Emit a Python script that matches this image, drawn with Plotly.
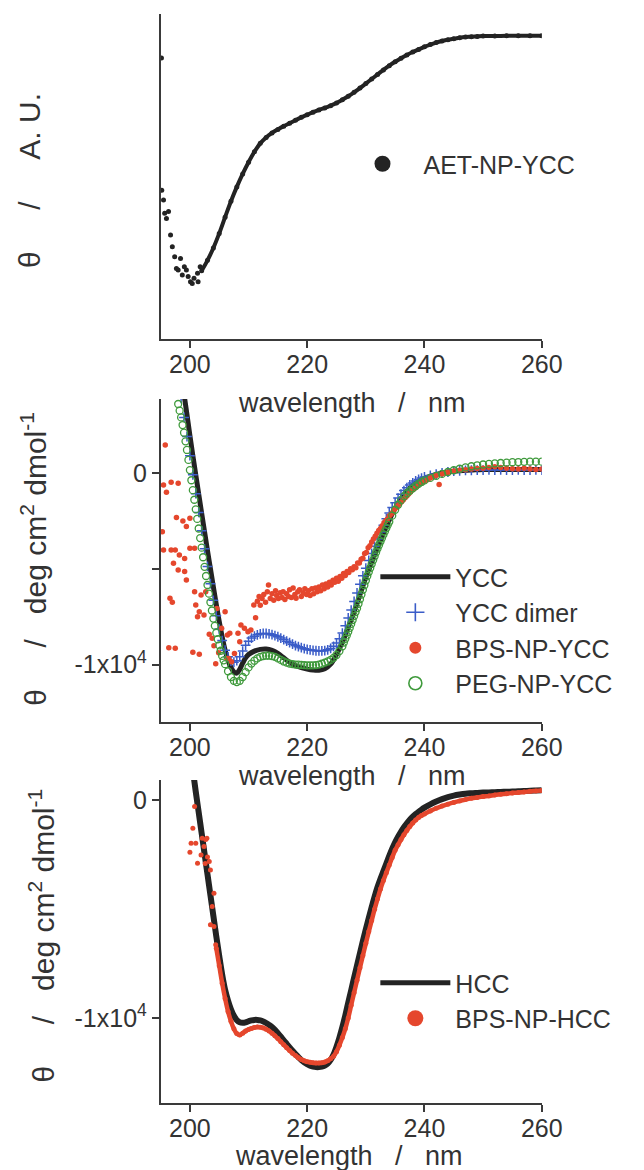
import plotly.graph_objects as go

# ---------------- DATA ----------------
# Panel 1: AET-NP-YCC (arbitrary units, 0-100 scale)
aet_noisy_wl = [195.15, 195.2, 195.5, 195.7, 196.0, 196.35, 196.7, 197.0, 197.4, 197.7, 198.0, 198.4,
                198.7, 199.05, 199.4, 199.7, 200.1, 200.4, 200.7, 201.3, 201.4, 201.75]
aet_noisy_au = [86.5, 45.8, 42.8, 38.7, 37.1, 39.2, 32.0, 28.4, 25.3, 21.7, 21.2, 24.8,
                19.7, 22.2, 21.2, 19.2, 17.6, 17.1, 18.7, 20.2, 17.6, 22.2]
aet_wl = [202, 203, 204, 205, 206, 207, 208, 209, 210, 211, 212, 213, 214, 215, 216, 217, 218, 219,
          220, 221, 222, 223, 224, 225, 226, 227, 228, 229, 230, 231, 232, 233, 234, 235, 236, 237,
          238, 239, 240, 241, 242, 243, 244, 245, 246, 247, 248, 249, 250, 252, 254, 256, 258, 260]
aet_au = [21.0, 24.2, 28.0, 32.5, 37.5, 42.4, 46.8, 50.8, 54.4, 57.6, 60.2, 62.0, 63.4, 64.5, 65.5,
          66.4, 67.3, 68.2, 69.0, 69.8, 70.5, 71.1, 71.8, 72.6, 73.6, 74.7, 75.9, 77.2, 78.6, 80.0,
          81.4, 82.8, 84.1, 85.3, 86.4, 87.4, 88.3, 89.1, 89.9, 90.6, 91.2, 91.7, 92.1, 92.4, 92.7,
          92.9, 93.0, 93.1, 93.2, 93.2, 93.3, 93.3, 93.3, 93.3]

# Panel 2: YCC family (deg cm2 dmol-1)
ycc_wl = [199.0, 199.5, 200.0, 200.5, 201.0, 201.5, 202.0, 202.5, 203.0, 203.5, 204.0, 204.5, 205.0,
          205.5, 206.0, 206.5, 207.0, 207.5, 208.0, 208.5, 209.0, 209.5, 210.0, 211, 212, 213, 214,
          215, 216, 217, 218, 219, 220, 221, 222, 223, 224, 225, 226, 227, 228, 229, 230, 231, 232,
          233, 234, 235, 236, 237, 238, 239, 240, 242, 244, 246, 248, 250, 255, 260]
ycc_val = [4100, 3050, 1950, 900, -100, -1100, -2100, -3080, -4050, -5000, -5950, -6870, -7750,
           -8550, -9250, -9780, -10150, -10380, -10450, -10250, -9930, -9650, -9480, -9300, -9210,
           -9190, -9260, -9420, -9650, -9880, -10050, -10160, -10240, -10290, -10300, -10220, -9980,
           -9480, -8830, -8050, -7250, -6350, -5450, -4650, -3900, -3150, -2450, -1850, -1350, -950,
           -650, -430, -280, -80, 50, 120, 150, 180, 180, 180]

dimer_wl = [198.5, 199.0, 199.5, 200.0, 200.5, 201.0, 201.5, 202.0, 202.5, 203.0, 203.5, 204.0,
            204.5, 205.0, 205.5, 206.0, 206.5, 207.0, 207.5, 208.0, 208.5, 209.0, 209.5, 210.0,
            210.5, 211.0, 211.5, 212.0, 212.5, 213.0, 213.5, 214.0, 214.5, 215.0, 215.5, 216.0,
            216.5, 217.0, 217.5, 218.0, 218.5, 219.0, 219.5, 220.0, 220.5, 221.0, 221.5, 222.0,
            222.5, 223.0, 223.5, 224.0, 224.5, 225.0, 225.5, 226.0, 226.5, 227.0, 227.5, 228.0,
            228.5, 229.0, 229.5, 230.0, 230.5, 231.0, 231.5, 232.0, 232.5, 233.0, 233.5, 234.0,
            234.5, 235.0, 235.5, 236.0, 236.5, 237.0, 237.5, 238.0, 238.5, 239.0, 239.5, 240.0,
            241, 242, 243, 244, 245, 246, 247, 248, 249, 250, 251, 252, 253, 254, 255, 256, 257,
            258, 259, 260]
dimer_val = [3900, 2900, 1900, 900, -100, -1080, -2060, -3020, -3960, -4880, -5780, -6650,
             -7450, -8150, -8750, -9250, -9600, -9820, -9880, -9800, -9600, -9300, -9000, -8780,
             -8620, -8520, -8450, -8400, -8380, -8380, -8400, -8440, -8490, -8550, -8620, -8700,
             -8780, -8860, -8940, -9010, -9070, -9120, -9170, -9210, -9240, -9260, -9280, -9290,
             -9290, -9270, -9230, -9160, -9050, -8880, -8650, -8360, -7970, -7570, -7160, -6710,
             -6260, -5810, -5370, -4970, -4570, -4200, -3830, -3450, -3080, -2730, -2390, -2090,
             -1800, -1550, -1310, -1110, -920, -770, -630, -520, -420, -340, -270, -210,
             -130, -60, 0, 50, 90, 110, 130, 140, 150, 150, 160, 150, 160, 150, 150, 160, 150,
             150, 160, 150]

bps_ycc_wl = [195.3, 195.5, 195.5, 195.8, 196.0, 196.4, 196.6, 196.8, 196.8, 197.0, 197.2, 197.5,
              197.5, 197.7, 198.0, 198.0, 198.2, 198.8, 199.1, 199.1, 199.4, 199.4, 200.0, 200.0,
              200.5, 200.8, 200.8, 201.0, 201.3, 201.6, 201.6, 201.9, 202.4, 202.7, 203.3, 203.8,
              204.1, 204.4, 204.6, 204.9, 205.4, 206.0, 206.3, 206.4, 206.6, 206.8, 207.1, 207.6,
              208.2, 208.5, 208.7, 209.3, 209.9, 210.4, 210.9, 211.2,
              211.5, 211.8, 212.0, 212.3, 212.6, 212.9, 213.2, 213.4, 213.7, 214.0, 214.3, 214.6,
              214.8, 215.1, 215.4, 215.7, 215.9, 216.2, 216.5, 216.8, 217.0, 217.3, 217.6, 217.9,
              218.1, 218.4, 218.7, 219.0, 219.3, 219.6, 219.9, 220.2, 220.5, 220.8, 221.1, 221.4,
              221.7, 222.0, 222.3, 222.6, 222.9, 223.2, 223.5, 223.8, 224.1, 224.4, 224.7, 225.0,
              225.3, 225.6, 225.9, 226.2, 226.5, 226.8, 227.1, 227.4, 227.7, 228.0, 228.3, 228.6,
              228.9, 229.2, 229.5, 229.8, 230.1, 230.4, 230.7, 231.0, 231.3, 231.6, 231.9, 232.2,
              232.5, 232.8, 233.1, 233.4, 233.7, 234.0, 234.3, 234.6, 234.9, 235.2, 235.5, 235.8,
              236.1, 236.4, 236.7, 237.0, 237.3, 237.6, 238.0, 238.4, 238.8, 239.2, 239.6, 240.0,
              240.5, 241.0, 241.5, 242.0, 242.5, 243.0, 243.5, 244.0, 245, 246, 247, 248, 249, 250,
              251, 252, 253, 254, 255, 256, 257, 258, 259, 260]
bps_ycc_val = [-3070, -630, -4020, 1460, -1010, -9120, -6540, -490, -4020, -6750, -4720, -4020,
               -9150, -2330, -5070, -540, -4280, -2510, -4460, -5150, -2800, -5590, -2370, -3930,
               -9360, -3930, -6200, -6890, -7500, -7240, -9470, -6370, -7420, -6200, -8420, -8630,
               -9020, -9960, -7070, -9380, -8110, -7240, -9680, -8460, -9680, -8370, -9850, -9420,
               -8370, -8810, -7940, -8110, -8290, -8200, -6890, -7560,
               -6700, -6450, -6900, -6550, -6350, -6750, -6200, -5850, -6550, -6300, -6650, -6150,
               -6400, -6550, -6250, -6500, -6200, -6600, -6300, -6450, -6100, -6500, -6000, -6350,
               -6540, -6200, -6100, -6450, -6250, -6050, -6350, -6150, -6400, -6050, -6300, -6000,
               -6200, -5950, -6150, -5850, -6050, -5800, -5950, -5700, -5850, -5600, -5700, -5500,
               -5650, -5400, -5500, -5250, -5350, -5150, -5200, -5000, -5050, -4900, -4950, -4700,
               -4700, -4500, -4450, -4200, -4150, -3900, -3800, -3600, -3450, -3300, -3150, -3000,
               -2900, -2750, -2600, -2500, -2400, -2250, -2150, -2050, -1900, -1800, -1700, -1600,
               -1500, -1400, -1300, -1200, -1100, -1000, -880, -780, -680, -580, -500, -430,
               -350, -270, -200, -130, -600, -50, 0, 40, 100, 140, 170, 200, 230, 250,
               280, 320, 280, 250, 220, 200, 240, 200, 180, 200]

peg_wl = [198.0, 198.25, 198.5, 198.75, 199.0, 199.25, 199.5, 199.75, 200.0, 200.25, 200.5, 200.75,
          201.0, 201.25, 201.5, 201.75, 202.0, 202.25, 202.5, 202.75, 203.0, 203.25, 203.5, 203.75,
          204.0, 204.25, 204.5, 204.75, 205.0, 205.25, 205.5, 205.75, 206.0, 206.5, 207.0, 207.5,
          208.0, 208.5, 209.0, 209.5, 210.0, 210.5, 211.0, 211.5, 212.0, 212.5, 213.0, 213.5,
          214.0, 214.5, 215.0, 215.5, 216.0, 216.5, 217.0, 217.5, 218.0, 218.5, 219.0, 219.5,
          220.0, 220.5, 221.0, 221.5, 222.0, 222.5, 223.0, 223.5, 224.0, 224.5, 225.0, 225.5,
          226.0, 226.25, 226.5, 226.75, 227.0, 227.25, 227.5, 227.75, 228.0, 228.25, 228.5, 228.75,
          229.0, 229.25, 229.5, 229.75, 230.0, 230.25, 230.5, 230.75, 231.0, 231.25, 231.5, 231.75,
          232.0, 232.25, 232.5, 232.75, 233.0, 233.25, 233.5, 233.75, 234.0, 234.5, 235.0, 235.5,
          236.0, 236.5, 237.0, 237.5, 238.0, 238.5, 239.0, 239.5, 240.0, 241, 242, 243, 244, 245,
          246, 247, 248, 249, 250, 251, 252, 253, 254, 255, 256, 257, 258, 259, 260]
peg_val = [3600, 3250, 2900, 2500, 2100, 1650, 1200, 680, 150, -380, -900, -1400,
           -1900, -2400, -2900, -3400, -3900, -4400, -4900, -5380, -5850, -6300, -6750, -7180,
           -7600, -7980, -8350, -8680, -9000, -9280, -9550, -9780, -9980, -10350, -10650, -10850,
           -10920, -10850, -10650, -10400, -10150, -9950, -9800, -9680, -9600, -9560, -9540, -9540,
           -9560, -9600, -9680, -9760, -9840, -9900, -9950, -9980, -10000, -10010, -10020, -10030,
           -10040, -10040, -10040, -10030, -10000, -9960, -9900, -9840, -9760, -9650, -9500, -9300,
           -9050, -8850, -8660, -8480, -8290, -8090, -7880, -7680, -7470, -7260, -7060, -6830,
           -6590, -6350, -6100, -5860, -5620, -5380, -5170, -4960, -4750, -4550, -4350, -4140,
           -3950, -3760, -3580, -3400, -3220, -3050, -2880, -2710, -2550, -2230, -1920, -1660,
           -1420, -1220, -1060, -930, -800, -680, -570, -470, -390, -260, -150, -50, 50, 140,
           220, 290, 350, 400, 440, 470, 500, 520, 540, 560, 570, 580, 590, 590, 590]

# Panel 3: HCC family (deg cm2 dmol-1)
hcc_wl = [200.5, 201.0, 201.5, 202.0, 202.5, 203.0, 203.5, 204.0, 204.5, 205.0, 205.5, 206.0,
          206.5, 207.0, 207.5, 208.0, 208.5, 209.0, 209.5, 210.0, 210.5, 211.0, 211.5, 212.0,
          212.5, 213.0, 213.5, 214.0, 214.5, 215.0, 215.5, 216.0, 216.5, 217.0, 217.5, 218.0,
          218.5, 219.0, 219.5, 220.0, 220.5, 221.0, 221.5, 222.0, 222.5, 223.0, 223.5, 224.0,
          224.5, 225.0, 225.5, 226.0, 226.5, 227.0, 227.5, 228.0, 228.5, 229.0, 229.5, 230.0,
          230.5, 231.0, 231.5, 232.0, 232.5, 233.0, 233.5, 234.0, 234.5, 235.0, 235.5, 236.0,
          236.5, 237.0, 237.5, 238.0, 238.5, 239.0, 239.5, 240.0,
          241, 242, 243, 244, 245, 246, 247, 248, 249, 250, 251, 252, 253, 254, 255, 256, 257,
          258, 259, 260]
hcc_val = [1400, 400, -550, -1500, -2450, -3400, -4350, -5300, -6250, -7150, -8000, -8700,
           -9200, -9600, -9900, -10100, -10200, -10220, -10200, -10150, -10110, -10090, -10090, -10110,
           -10160, -10230, -10320, -10420, -10550, -10700, -10860, -11030, -11190, -11350, -11510, -11660,
           -11800, -11930, -12040, -12130, -12200, -12240, -12260, -12260, -12240, -12190, -12100, -11930,
           -11680, -11320, -10900, -10420, -9880, -9300, -8730, -8150, -7580, -7020, -6460, -5920,
           -5400, -4900, -4420, -3980, -3600, -3250, -2900, -2550, -2220, -1930, -1670, -1440,
           -1230, -1050, -890, -750, -630, -520, -420, -330,
           -180, -50, 60, 150, 220, 270, 310, 330, 345, 360, 370, 380, 390, 400, 410, 420, 430,
           450, 460, 470]

bps_hcc_noisy_wl = [200.0, 200.2, 200.5, 200.8, 201.0, 201.3, 201.9, 202.1, 202.4, 202.6, 202.7,
                    202.9, 203.0, 203.3, 203.5, 203.5, 203.8, 204.1, 204.1, 204.4]
bps_hcc_noisy_val = [-2380, -1970, -1280, -280, -1970, -2890, -2510, -1740, -2120, -2900, -1800,
                     -1740, -2600, -2810, -3200, -5720, -4880, -4270, -5800, -6640]
bps_hcc_wl = [204.5, 205.0, 205.5, 206.0, 206.5, 207.0, 207.5, 208.0, 208.5, 209.0, 209.5, 210.0,
              210.5, 211.0, 211.5, 212.0, 212.5, 213.0, 213.5, 214.0, 214.5, 215.0, 215.5, 216.0,
              216.5, 217.0, 217.5, 218.0, 218.5, 219.0, 219.5, 220.0, 220.5, 221.0, 221.5, 222.0,
              222.5, 223.0, 223.5, 224.0, 224.5, 225.0, 225.5, 226.0, 226.5, 227.0, 227.5, 228.0,
              228.5, 229.0, 229.5, 230.0, 230.5, 231.0, 231.5, 232.0, 232.5, 233.0, 233.5, 234.0,
              234.5, 235.0, 235.5, 236.0, 236.5, 237.0, 237.5, 238.0, 238.5, 239.0, 239.5, 240.0,
              241, 242, 243, 244, 245, 246, 247, 248, 249, 250, 251, 252, 253, 254, 255, 256, 257,
              258, 259, 260]
bps_hcc_val = [-6800, -7600, -8400, -9100, -9700, -10150, -10500, -10720, -10780, -10700, -10600, -10530,
               -10480, -10440, -10420, -10430, -10460, -10520, -10600, -10700, -10820, -10950, -11090, -11230,
               -11370, -11500, -11620, -11730, -11830, -11910, -11970, -12010, -12040, -12060, -12070, -12070,
               -12060, -12030, -11970, -11870, -11760, -11550, -11250, -10900, -10500, -10000, -9420, -8840,
               -8270, -7690, -7130, -6570, -6030, -5520, -5000, -4520, -4070, -3680, -3320, -2970,
               -2620, -2290, -2040, -1800, -1580, -1380, -1200, -1040, -900, -780, -690, -620,
               -480, -360, -260, -170, -90, -20, 40, 100, 140, 180, 210, 250, 280, 310, 340, 370, 390,
               420, 440, 460]

x_ticks = [200, 220, 240, 260]
y2_ticks = [0, -10000]
y2_minor_ticks = [-5000]
y_ticktext = ["0", "-1x10<sup>4</sup>"]
y3_ticks = [0, -10000]

for _n, _a, _b in [("aet_noisy", aet_noisy_wl, aet_noisy_au), ("aet", aet_wl, aet_au),
                   ("ycc", ycc_wl, ycc_val), ("dimer", dimer_wl, dimer_val),
                   ("bps_ycc", bps_ycc_wl, bps_ycc_val), ("peg", peg_wl, peg_val),
                   ("hcc", hcc_wl, hcc_val), ("bps_hcc_noisy", bps_hcc_noisy_wl, bps_hcc_noisy_val),
                   ("bps_hcc", bps_hcc_wl, bps_hcc_val)]:
    if len(_a) != len(_b):
        raise ValueError(f"{_n}: {len(_a)} vs {len(_b)}")

# ---------------- STYLE ----------------
W, H = 644, 1170
FONT = "Liberation Sans, Arial, Helvetica, sans-serif"
TXT = "#333333"
AX = "#3a3a3a"
BLACK = "#232323"
RED = "#e5472d"
BLUE = "#3a5cc8"
GREEN = "#3f9a3c"
NB = "\u00a0"


def fx(p):
    return p / W


def fy(p):
    return 1 - p / H


fig = go.Figure()

# Panel 1
fig.add_trace(go.Scatter(x=aet_noisy_wl, y=aet_noisy_au, mode="markers",
                         marker=dict(size=5, color=BLACK), xaxis="x", yaxis="y", showlegend=False))
fig.add_trace(go.Scatter(x=aet_wl, y=aet_au, mode="lines+markers",
                         line=dict(color=BLACK, width=4, shape="spline"),
                         marker=dict(size=5, color=BLACK), xaxis="x", yaxis="y", showlegend=False))

# Panel 2
fig.add_trace(go.Scatter(x=ycc_wl, y=ycc_val, mode="lines",
                         line=dict(color=BLACK, width=5, shape="spline"),
                         xaxis="x2", yaxis="y2", showlegend=False))
fig.add_trace(go.Scatter(x=dimer_wl, y=dimer_val, mode="markers",
                         marker=dict(symbol="cross-thin", size=7, color=BLUE, line=dict(width=1.5, color=BLUE)),
                         xaxis="x2", yaxis="y2", showlegend=False))
fig.add_trace(go.Scatter(x=bps_ycc_wl, y=bps_ycc_val, mode="markers",
                         marker=dict(size=5.5, color=RED),
                         xaxis="x2", yaxis="y2", showlegend=False))
fig.add_trace(go.Scatter(x=peg_wl, y=peg_val, mode="markers",
                         marker=dict(symbol="circle-open", size=7, color=GREEN, line=dict(width=1.3, color=GREEN)),
                         xaxis="x2", yaxis="y2", showlegend=False))

# Panel 3
fig.add_trace(go.Scatter(x=hcc_wl, y=hcc_val, mode="lines",
                         line=dict(color=BLACK, width=6, shape="spline"),
                         xaxis="x3", yaxis="y3", showlegend=False))
fig.add_trace(go.Scatter(x=bps_hcc_noisy_wl, y=bps_hcc_noisy_val, mode="markers",
                         marker=dict(size=5, color=RED), xaxis="x3", yaxis="y3", showlegend=False))
fig.add_trace(go.Scatter(x=bps_hcc_wl, y=bps_hcc_val, mode="lines+markers",
                         line=dict(color=RED, width=4.5, shape="spline"),
                         marker=dict(size=5, color=RED), xaxis="x3", yaxis="y3", showlegend=False))


# Legend entries
def leg(name, legend, xa, ya, **kw):
    fig.add_trace(go.Scatter(x=[None], y=[None], name=name, legend=legend,
                             xaxis=xa, yaxis=ya, showlegend=True, **kw))


leg("AET-NP-YCC", "legend", "x", "y", mode="markers", marker=dict(size=16, color=BLACK))
leg("YCC", "legend2", "x2", "y2", mode="lines", line=dict(color=BLACK, width=5))
leg("YCC dimer", "legend2", "x2", "y2", mode="markers",
    marker=dict(symbol="cross-thin", size=13, color=BLUE, line=dict(width=1.6, color=BLUE)))
leg("BPS-NP-YCC", "legend2", "x2", "y2", mode="markers", marker=dict(size=12, color=RED))
leg("PEG-NP-YCC", "legend2", "x2", "y2", mode="markers",
    marker=dict(symbol="circle-open", size=13, color=GREEN, line=dict(width=1.6, color=GREEN)))
leg("HCC", "legend3", "x3", "y3", mode="lines", line=dict(color=BLACK, width=5))
leg("BPS-NP-HCC", "legend3", "x3", "y3", mode="markers", marker=dict(size=16, color=RED))

tickfont = dict(size=25, color=TXT, family=FONT)
common_x = dict(range=[195, 260], tickvals=x_ticks, ticks="outside", ticklen=7, tickwidth=1.5,
                tickcolor=AX, showline=True, linewidth=1.5, linecolor=AX, showgrid=False,
                zeroline=False, tickfont=tickfont, domain=[166 / W, 560 / W], fixedrange=True,
                ticklabelstandoff=-5)
common_y = dict(showline=True, linewidth=1.5, linecolor=AX, showgrid=False, zeroline=False,
                tickfont=tickfont, ticklen=7, tickwidth=1.5, tickcolor=AX, fixedrange=True)

legfont = dict(size=25, color=TXT, family=FONT)
legcommon = dict(xanchor="left", yanchor="top", font=legfont, bgcolor="rgba(0,0,0,0)",
                 borderwidth=0, itemclick=False, itemdoubleclick=False)

fig.update_layout(
    width=W, height=H, autosize=False,
    margin=dict(l=0, r=0, t=0, b=0, pad=0),
    paper_bgcolor="white", plot_bgcolor="white",
    hovermode=False,
    font=dict(family=FONT, color=TXT),
    xaxis=dict(**common_x, anchor="y"),
    xaxis2=dict(**common_x, anchor="y2"),
    xaxis3=dict(**common_x, anchor="y3"),
    yaxis=dict(**common_y, domain=[fy(339), fy(14)], range=[0, 100], showticklabels=False,
               ticks="", anchor="x"),
    yaxis2=dict(**common_y, domain=[fy(722), fy(399)], range=[-13000, 3860], tickvals=y2_ticks,
                ticktext=y_ticktext, ticks="outside", anchor="x2",
                minor=dict(tickvals=y2_minor_ticks, ticks="outside", ticklen=7, tickwidth=1.5,
                           tickcolor=AX, showgrid=False)),
    yaxis3=dict(**common_y, domain=[fy(1103), fy(780)], range=[-13910, 940], tickvals=y3_ticks,
                ticktext=y_ticktext, ticks="outside", anchor="x3"),
    legend=dict(**legcommon, x=fx(353), y=fy(141), itemwidth=72),
    legend2=dict(**legcommon, x=fx(388), y=fy(554), itemwidth=70),
    legend3=dict(**legcommon, x=fx(388), y=fy(960), itemwidth=70),
)

xtitle = "wavelength" + NB * 3 + "/" + NB * 3 + "nm"
ann = []
for cx, cy in [(364, 403), (364, 776), (361, 1156)]:
    ann.append(dict(text=xtitle, x=fx(cx), y=fy(cy), xref="paper", yref="paper",
                    xanchor="center", yanchor="middle", showarrow=False,
                    font=dict(size=27, color=TXT, family=FONT)))
ytitle1 = "\u03b8" + NB * 5 + "/" + NB * 5 + "A. U."
ytitle2 = "\u03b8" + NB * 5 + "/" + NB * 3 + "deg cm<sup>2</sup> dmol<sup>-1</sup>"
for txt, cx, cy in [(ytitle1, 30, 181), (ytitle2, 35, 559), (ytitle2, 43, 936)]:
    ann.append(dict(text=txt, x=fx(cx), y=fy(cy), xref="paper", yref="paper",
                    xanchor="center", yanchor="middle", showarrow=False, textangle=-90,
                    font=dict(size=30, color=TXT, family=FONT)))
fig.update_layout(annotations=ann)

fig.write_html("out.html")
